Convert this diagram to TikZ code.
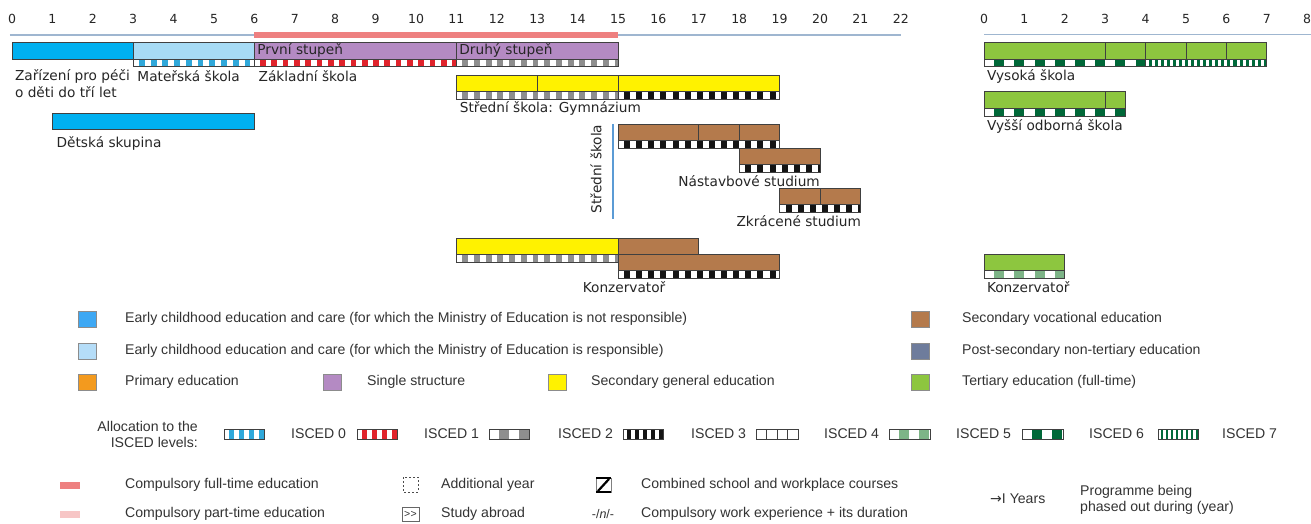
\documentclass[tikz,border=0pt]{standalone}
\usepackage{fontspec}
\setmainfont{Liberation Sans}
\newfontfamily\dv{DejaVu Sans}
\definecolor{cblue}{HTML}{00B0F0}
\definecolor{clblue}{HTML}{A7DBF5}
\definecolor{cpurple}{HTML}{B48AC3}
\definecolor{cyellow}{HTML}{FFF200}
\definecolor{cbrown}{HTML}{B47A4C}
\definecolor{cgreen}{HTML}{8DC63F}
\definecolor{corange}{HTML}{F39A1E}
\definecolor{cslate}{HTML}{6E7C9C}
\definecolor{lblue}{HTML}{3DA8F4}
\definecolor{llblue}{HTML}{B5DDF8}
\definecolor{axiscol}{HTML}{9FB6D0}
\definecolor{cred}{HTML}{EE8080}
\definecolor{cpink}{HTML}{F7C6C6}
\definecolor{vlinecol}{HTML}{5B9BD5}
\definecolor{sz}{HTML}{2FA8DA}
\definecolor{sa}{HTML}{E0232B}
\definecolor{sb}{HTML}{8E8E8E}
\definecolor{sc}{HTML}{141414}
\definecolor{se}{HTML}{7DB487}
\definecolor{sf}{HTML}{006838}
\definecolor{sg}{HTML}{00693A}
\tikzset{
  bar/.style={draw=black!75, line width=0.7pt},
  lab/.style={font=\dv\fontsize{13.7}{15}\selectfont, text=black!85, inner sep=0pt},
  num/.style={font=\dv\fontsize{12.5}{14}\selectfont, text=black!85, inner sep=0pt},
  leg/.style={font=\fontsize{14.1}{16}\selectfont, text=black!80, inner sep=0pt, anchor=west},
  swatch/.style={draw=black!45, line width=0.5pt},
}
% stripe pattern: x1 x2 ytop ybottom colour period
\newcommand\isced[6]{%
  \begin{scope}
    \clip (#1,#3) rectangle (#2,#4);
    \fill[white] (#1,#3) rectangle (#2,#4);
    \pgfmathtruncatemacro\nn{ceil((#2-#1)/#6)}
    \foreach \k in {0,...,\nn}{\fill[#5] ({#1+\k*#6+#6/2},#3) rectangle ({#1+(\k+1)*#6},#4);}
  \end{scope}
  \draw[bar] (#1,#3) rectangle (#2,#4);}
\begin{document}
\begin{tikzpicture}[x=1pt,y=-1pt]
\useasboundingbox (0,0) rectangle (1311,523);
\fill[white] (0,0) rectangle (1311,523);

% ================= left part (years) =================
\begin{scope}[xshift=12pt, x=40.4pt]
  \foreach \i in {0,...,22} \node[num] (L\i) at (\i,19) {\i};
  \draw[axiscol, line width=1.3pt] (-0.05,35) -- (22,35);
  \fill[cred] (6,31.5) rectangle (15,38);

  % row 1
  \filldraw[bar, fill=cblue] (0,42) rectangle (3,59);
  \filldraw[bar, fill=clblue] (3,42) rectangle (6,59);
  \isced{3}{6}{59}{66}{sz}{0.29}
  \filldraw[bar, fill=cpurple] (6,42) rectangle (15,59);
  \draw[bar] (11,42) -- (11,59);
  \isced{6}{11}{59}{66}{sa}{0.28}
  \isced{11}{15}{59}{66}{sb}{0.29}
  \node[lab, anchor=west] (ps) at (6.07,50) {První stupeň};
  \node[lab, anchor=west] (ds) at (11.07,50) {Druhý stupeň};
  \node[lab, anchor=west] (zar) at (0.07,76) {Zařízení pro péči};
  \node[lab, anchor=west] (zar2) at (0.07,92) {o děti do tří let};
  \node[lab, anchor=west] (ms) at (3.1,76) {Mateřská škola};
  \node[lab, anchor=west] (zs) at (6.1,76) {Základní škola};

  % Dětská skupina
  \filldraw[bar, fill=cblue] (1,113) rectangle (6,129);
  \node[lab, anchor=west] (dsk) at (1.1,143) {Dětská skupina};

  % Gymnázium
  \filldraw[bar, fill=cyellow] (11,75) rectangle (19,91);
  \draw[bar] (13,75) -- (13,91) (15,75) -- (15,91);
  \isced{11}{15}{91}{99}{sb}{0.29}
  \isced{15}{19}{91}{99}{sc}{0.3}
  \node[lab, anchor=west] (gym) at (11.08,108) {Střední škola: Gymnázium};

  % Střední škola (vocational)
  \filldraw[bar, fill=cbrown] (15,124) rectangle (19,140);
  \draw[bar] (17,124) -- (17,140) (18,124) -- (18,140);
  \isced{15}{19}{140}{148}{sc}{0.3}
  \filldraw[bar, fill=cbrown] (18,148) rectangle (20,164);
  \isced{18}{20}{164}{172}{sc}{0.3}
  \node[lab, anchor=east] (nas) at (20,181) {Nástavbové studium};
  \filldraw[bar, fill=cbrown] (19,188) rectangle (21,204);
  \draw[bar] (20,188) -- (20,204);
  \isced{19}{21}{204}{212}{sc}{0.3}
  \node[lab, anchor=east] (zkr) at (21.02,221) {Zkrácené studium};

  % Konzervatoř
  \filldraw[bar, fill=cyellow] (11,238) rectangle (15,254);
  \isced{11}{15}{254}{262}{sb}{0.29}
  \filldraw[bar, fill=cbrown] (15,238) rectangle (17,254);
  \filldraw[bar, fill=cbrown] (15,254) rectangle (19,270);
  \isced{15}{19}{270}{278}{sc}{0.3}
  \node[lab] (kon) at (15.15,287) {Konzervatoř};
\end{scope}

\draw[vlinecol, line width=1.3pt] (613,124) -- (613,219);
\node[lab, rotate=90] (ssk) at (596,169) {Střední škola};

% ================= right part (tertiary) =================
\begin{scope}[xshift=984pt, x=40.4pt]
  \foreach \i in {0,...,8} \node[num] (R\i) at (\i,19) {\i};
  \draw[axiscol, line width=1.3pt] (0,34.5) -- (8.2,34.5);

  \filldraw[bar, fill=cgreen] (0,42) rectangle (7,59);
  \draw[bar] (3,42) -- (3,59) (4,42) -- (4,59) (5,42) -- (5,59) (6,42) -- (6,59);
  \isced{0}{4}{59}{66}{sf}{0.5}
  \isced{4}{7}{59}{66}{sg}{0.15}
  \node[lab, anchor=west] (vs) at (0.07,76) {Vysoká škola};

  \filldraw[bar, fill=cgreen] (0,91) rectangle (3.5,108);
  \draw[bar] (3,91) -- (3,108);
  \isced{0}{3.5}{108}{116}{sf}{0.5}
  \node[lab, anchor=west] (vos) at (0.07,126) {Vyšší odborná škola};

  \filldraw[bar, fill=cgreen] (0,254) rectangle (2,270);
  \isced{0}{2}{270}{278}{se}{0.5}
  \node[lab, anchor=west] (kon2) at (0.07,287) {Konzervatoř};
\end{scope}

% ================= legend =================
\filldraw[swatch, fill=lblue] (78,311) rectangle (96,327);
\node[leg] (l1) at (125,319) {Early childhood education and care (for which the Ministry of Education is not responsible)};
\filldraw[swatch, fill=llblue] (78,343) rectangle (96,359);
\node[leg] (l2) at (125,351) {Early childhood education and care (for which the Ministry of Education is responsible)};
\filldraw[swatch, fill=corange] (78,374) rectangle (96,390);
\node[leg] (l3) at (125,382) {Primary education};
\filldraw[swatch, fill=cpurple] (323,374) rectangle (341,390);
\node[leg] (l4) at (367,382) {Single structure};
\filldraw[swatch, fill=cyellow] (548,374) rectangle (566,390);
\node[leg] (l5) at (591,382) {Secondary general education};
\filldraw[swatch, fill=cbrown] (911,311) rectangle (929,327);
\node[leg] (l6) at (962,319) {Secondary vocational education};
\filldraw[swatch, fill=cslate] (911,343) rectangle (929,359);
\node[leg] (l7) at (962,351) {Post-secondary non-tertiary education};
\filldraw[swatch, fill=cgreen] (911,374) rectangle (929,390);
\node[leg] (l8) at (962,382) {Tertiary education (full-time)};

% ISCED allocation
\node[leg, anchor=east, align=right] (alloc) at (198,434) {Allocation to the\\ISCED levels:};
\isced{224}{264}{429}{439}{sz}{10}
\node[leg] (i0) at (291,434) {ISCED 0};
\isced{357}{397}{429}{439}{sa}{10}
\node[leg] (i1) at (424,434) {ISCED 1};
\isced{489}{529}{429}{439}{sb}{20}
\node[leg] (i2) at (558,434) {ISCED 2};
\isced{623}{663}{429}{439}{sc}{8}
\node[leg] (i3) at (691,434) {ISCED 3};
\fill[white] (756,429) rectangle (798,439);
\draw[bar] (756,429) rectangle (798,439) (766.5,429) -- (766.5,439) (777,429) -- (777,439) (787.5,429) -- (787.5,439);
\node[leg] (i4) at (824,434) {ISCED 4};
\isced{889}{930}{429}{439}{se}{20}
\node[leg] (i5) at (956,434) {ISCED 5};
\isced{1022}{1063}{429}{439}{sf}{20}
\node[leg] (i6) at (1089,434) {ISCED 6};
\isced{1158}{1198}{429}{439}{sg}{5}
\node[leg] (i7) at (1222,434) {ISCED 7};

% bottom legend
\fill[cred] (60,482) rectangle (80,489);
\node[leg] (c1) at (125,485) {Compulsory full-time education};
\fill[cpink] (60,511) rectangle (80,518);
\node[leg] (c2) at (125,514) {Compulsory part-time education};

\draw[black!70, line width=0.8pt, dash pattern=on 2pt off 2pt] (403,477) rectangle (418,492);
\node[leg] (ay) at (441,485) {Additional year};
\draw[black!60, line width=0.6pt] (402,507) rectangle (419,521);
\node[font=\fontsize{10.5}{12}\selectfont, text=black!80, inner sep=0pt] (sa) at (410.5,514) {{>}\kern0.3pt{>}};
\node[leg] (sab) at (441,514) {Study abroad};

\draw[black!50, line width=0.6pt] (596,478) rectangle (611,492);
\draw[black, line width=2pt] (596,478) -- (611,478) (596,492) -- (611,492);
\draw[black, line width=2.2pt] (598,491) -- (609,479);
\node[leg] (cs) at (641,485) {Combined school and workplace courses};
\node[font=\fontsize{12.5}{14}\selectfont, text=black!80, inner sep=0pt] (nn) at (603,514) {-/\textit{n}/-};
\node[leg] (cw) at (641,514) {Compulsory work experience + its duration};

\node[leg] (yrs) at (990,499) {{\dv\fontsize{14}{14}\selectfont →}I Years};
\node[leg, align=left, font=\fontsize{14.1}{15.5}\selectfont] (po) at (1080,500) {Programme being\\phased out during (year)};
\end{tikzpicture}
\end{document}
